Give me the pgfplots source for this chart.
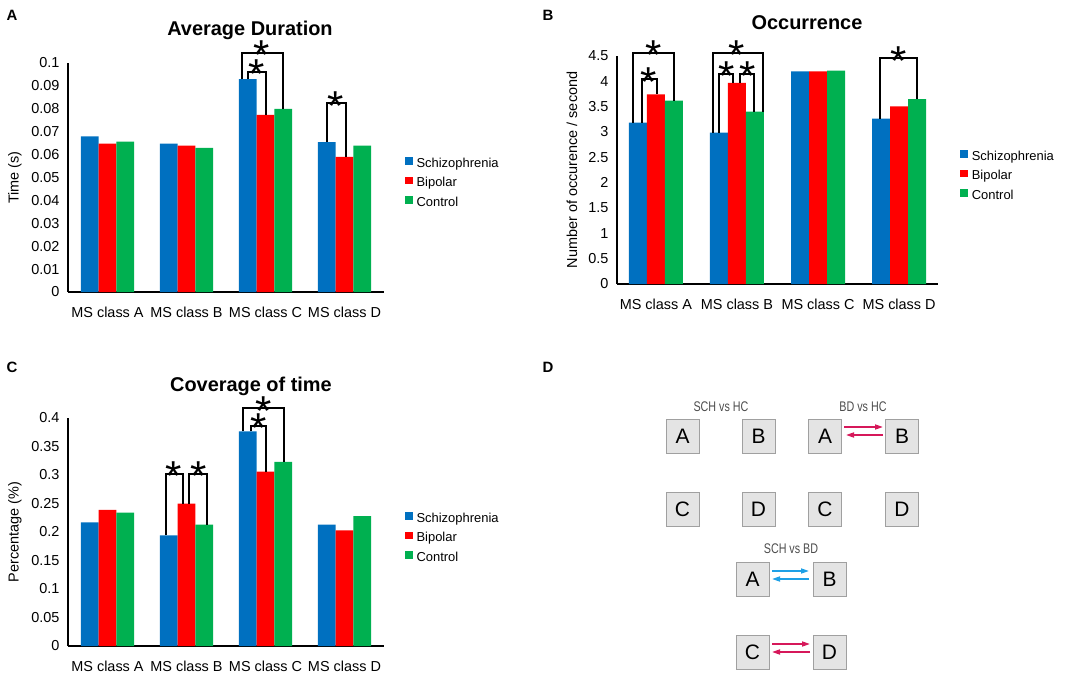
\documentclass[border=0pt]{standalone}
\usepackage{fontspec}
\setmainfont{Liberation Sans}
\usepackage{pgfplots}
\pgfplotsset{compat=1.18}
\usetikzlibrary{arrows.meta}

\definecolor{msblue}{RGB}{0,112,192}
\definecolor{msred}{RGB}{255,0,0}
\definecolor{msgreen}{RGB}{0,176,80}
\definecolor{arrred}{RGB}{214,24,90}
\definecolor{arrblue}{RGB}{30,160,230}
\definecolor{boxfill}{RGB}{228,228,228}
\definecolor{boxline}{RGB}{160,160,160}

\pgfplotsset{
  msbar/.style={
    scale only axis, anchor=south west, clip=false,
    ybar=0pt,
    xmin=-0.5, xmax=3.5, ymin=0,
    enlargelimits=false,
    axis x line*=bottom, axis y line*=left,
    axis line style={line width=2.2bp, black},
    xtick={0,1,2,3},
    xticklabels={MS class A,MS class B,MS class C,MS class D},
    major tick length=0pt,
    tick style={draw=none},
    ticklabel style={font=\fontsize{14.5}{17}\selectfont},
    xticklabel style={yshift=-12bp},
    yticklabel style={xshift=-5bp,
      /pgf/number format/fixed,
      /pgf/number format/precision=2,
      /pgf/number format/assume math mode=true},
    scaled y ticks=false,
    ylabel style={font=\fontsize{14.5}{17}\selectfont, anchor=center},
    title style={font=\bfseries\fontsize{20}{24}\selectfont, anchor=base},
    legend style={draw=none, fill=none, anchor=west, inner sep=0pt,
      row sep=7bp, font=\fontsize{13}{15}\selectfont,
      nodes={inner sep=0pt, text height=9.5bp, text depth=2.5bp},
      /tikz/every odd column/.append style={column sep=4bp}},
    legend cell align=left,
    legend image code/.code={\fill[##1] (0bp,-1bp) rectangle (7.5bp,6.5bp);},
  },
}

% bracket: x1, y1 (left foot), x2, y2 (right foot), top, star x
\newcommand{\brk}[6]{%
  \draw[line width=2bp] (axis cs:#1,#2) |- (axis cs:#3,#5) -- (axis cs:#3,#4);
  \node[anchor=base, inner sep=0pt, font=\fontsize{42}{42}\selectfont, yshift=-17bp]
    at (axis cs:#6,#5) {*};
}

\begin{document}
\begin{tikzpicture}
\path[use as bounding box] (0,0) rectangle (1084bp,-676bp);

% ---------- A ----------
\begin{axis}[msbar,
  at={(68bp,-292bp)}, width=316bp, height=229bp, bar width=17.7bp,
  ymax=0.1,
  ytick={0,0.01,0.02,0.03,0.04,0.05,0.06,0.07,0.08,0.09,0.1},
  ylabel={Time (s)},
  ylabel style={at={(axis description cs:-0.168,0.5)}},
  title={Average Duration},
  title style={at={(axis description cs:0.576,1.092)}},
  legend style={at={(axis description cs:1.066,0.476)}},
]
\addplot[fill=msblue, draw=none] coordinates {(0,0.0680) (1,0.0648) (2,0.0930) (3,0.0654)};
\addplot[fill=msred, draw=none] coordinates {(0,0.0648) (1,0.0639) (2,0.0774) (3,0.0590)};
\addplot[fill=msgreen, draw=none] coordinates {(0,0.0657) (1,0.0629) (2,0.0800) (3,0.0639)};
\legend{Schizophrenia,Bipolar,Control}
\brk{1.78}{0.0930}{2.0}{0.0774}{0.0961}{1.892}
\brk{1.703}{0.0930}{2.222}{0.0800}{0.1044}{1.956}
\brk{2.78}{0.0654}{3.02}{0.0590}{0.0825}{2.892}
\end{axis}

% ---------- B ----------
\begin{axis}[msbar,
  at={(617bp,-284bp)}, width=321bp, height=228bp, bar width=18bp,
  xmin=-0.48, xmax=3.48,
  ymax=4.5,
  ytick={0,0.5,1,1.5,2,2.5,3,3.5,4,4.5},
  ylabel={Number of occurence / second},
  ylabel style={at={(axis description cs:-0.14,0.5)}},
  title={Occurrence},
  title style={at={(axis description cs:0.592,1.091)}},
  legend style={at={(axis description cs:1.069,0.474)}},
]
\addplot[fill=msblue, draw=none] coordinates {(0,3.186) (1,2.99) (2,4.198) (3,3.265)};
\addplot[fill=msred, draw=none] coordinates {(0,3.745) (1,3.97) (2,4.198) (3,3.508)};
\addplot[fill=msgreen, draw=none] coordinates {(0,3.62) (1,3.40) (2,4.21) (3,3.65)};
\legend{Schizophrenia,Bipolar,Control}
\brk{-0.177}{3.186}{0.008}{3.745}{4.046}{-0.095}
\brk{-0.288}{3.186}{0.222}{3.62}{4.565}{-0.033}
\brk{0.778}{2.99}{0.955}{3.97}{4.145}{0.873}
\brk{1.037}{3.97}{1.21}{3.40}{4.145}{1.127}
\brk{0.708}{2.99}{1.317}{3.40}{4.565}{1.0}
\brk{2.765}{3.265}{3.226}{3.65}{4.455}{3.0}
\end{axis}

% ---------- C ----------
\begin{axis}[msbar,
  at={(68bp,-646bp)}, width=316bp, height=228bp, bar width=17.7bp,
  ymax=0.4,
  ytick={0,0.05,0.1,0.15,0.2,0.25,0.3,0.35,0.4},
  ylabel={Percentage (\%)},
  ylabel style={at={(axis description cs:-0.168,0.5)}},
  title={Coverage of time},
  title style={at={(axis description cs:0.579,1.092)}},
  legend style={at={(axis description cs:1.066,0.474)}},
]
\addplot[fill=msblue, draw=none] coordinates {(0,0.217) (1,0.194) (2,0.3766) (3,0.213)};
\addplot[fill=msred, draw=none] coordinates {(0,0.239) (1,0.250) (2,0.306) (3,0.203)};
\addplot[fill=msgreen, draw=none] coordinates {(0,0.234) (1,0.213) (2,0.323) (3,0.228)};
\legend{Schizophrenia,Bipolar,Control}
\brk{0.737}{0.194}{0.96}{0.250}{0.3018}{0.833}
\brk{1.032}{0.250}{1.255}{0.213}{0.3018}{1.15}
\brk{1.812}{0.3766}{2.0}{0.306}{0.3865}{1.918}
\brk{1.719}{0.3766}{2.238}{0.323}{0.417}{1.972}
\end{axis}

% ---------- panel letters ----------
\begin{scope}[x=1bp, y=-1bp, font=\bfseries\fontsize{15}{18}\selectfont]
\node at (12,15) {A};
\node at (548,15) {B};
\node at (12,367) {C};
\node at (548,367) {D};
\end{scope}

% ---------- D ----------
\begin{scope}[x=1bp, y=-1bp,
  st/.style={draw=boxline, fill=boxfill, line width=0.8bp, minimum width=33bp,
    minimum height=34bp, inner sep=0pt, font=\fontsize{21}{21}\selectfont},
  cmp/.style={text=black!70, font=\fontsize{14}{16}\selectfont},
  ar/.style={line width=1.6bp, -{Triangle[length=8bp,width=5bp]}}]
\node[cmp] at (721,407) {\scalebox{0.77}[1]{SCH vs HC}};
\node[cmp] at (863,407) {\scalebox{0.77}[1]{BD vs HC}};
\node[cmp] at (791,549) {\scalebox{0.77}[1]{SCH vs BD}};
\node[st] at (682.5,436) {A};
\node[st] at (758.5,436) {B};
\node[st] at (682.5,509) {C};
\node[st] at (758.5,509) {D};
\node[st] at (825,436) {A};
\node[st] at (902,436) {B};
\node[st] at (825,509) {C};
\node[st] at (902,509) {D};
\node[st] at (752.5,579) {A};
\node[st] at (829.5,579) {B};
\node[st] at (752.5,652.5) {C};
\node[st] at (829.5,652.5) {D};
\draw[ar, arrred] (844,427) -- (883,427);
\draw[ar, arrred] (883,435) -- (846,435);
\draw[ar, arrblue] (772,571) -- (809,571);
\draw[ar, arrblue] (809,579) -- (772,579);
\draw[ar, arrred] (772,644) -- (810,644);
\draw[ar, arrred] (810,652) -- (772,652);
\end{scope}
\end{tikzpicture}
\end{document}
